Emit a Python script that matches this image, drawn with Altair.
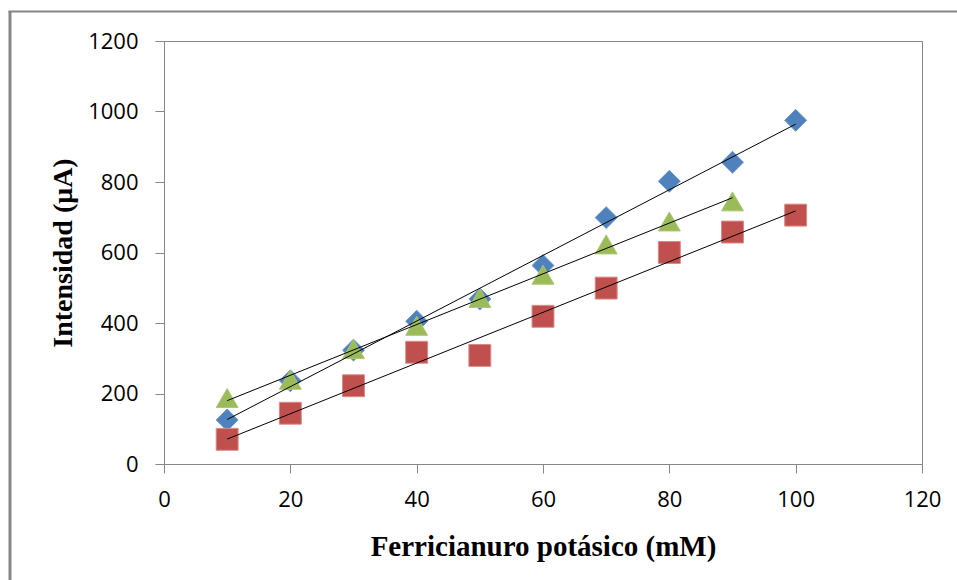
import altair as alt
import pandas as pd

# Data
conc = [10, 20, 30, 40, 50, 60, 70, 80, 90, 100]
serie_a = [125, 236, 323, 405, 468, 563, 699, 802, 856, 975]      # blue diamonds
serie_b = [70, 144, 222, 317, 308, 419, 499, 600, 658, 706]       # red squares
conc_c = [10, 20, 30, 40, 50, 60, 70, 80, 90]
serie_c = [187, 239, 326, 392, 471, 537, 623, 688, 745]           # green triangles

series_names = ["A", "B", "C"]
colors = ["#4F81BD", "#C0504D", "#9BBB59"]
strokes = ["#6A95CB", "#D98A88", "#A9C773"]
shapes = ["diamond", "square", "triangle-up"]

x_ticks = [0, 20, 40, 60, 80, 100, 120]
y_ticks = [0, 200, 400, 600, 800, 1000, 1200]

rows = []
for name, xs, ys in [("A", conc, serie_a), ("B", conc, serie_b), ("C", conc_c, serie_c)]:
    for xv, yv in zip(xs, ys):
        rows.append({"conc": xv, "val": yv, "serie": name})
df = pd.DataFrame(rows)

GRAY = "#868686"

x_enc = alt.X("conc:Q",
              scale=alt.Scale(domain=[0, 120], nice=False, zero=False),
              axis=alt.Axis(values=x_ticks, title="Ferricianuro potásico (mM)", format="d",
                            grid=False, domainColor=GRAY, tickColor=GRAY, tickSize=9,
                            labelFont="Open Sans", labelFontSize=22, labelColor="#000",
                            labelPadding=16, labelFlush=False, labelOverlap=False,
                            titleFont="Liberation Serif", titleFontSize=29,
                            titleFontWeight="bold", titleColor="#000", titlePadding=22))
y_enc = alt.Y("val:Q",
              scale=alt.Scale(domain=[0, 1200], nice=False),
              axis=alt.Axis(values=y_ticks, title="Intensidad (μA)", format="d",
                            grid=False, domainColor=GRAY, tickColor=GRAY, tickSize=9,
                            labelFont="Open Sans", labelFontSize=22, labelColor="#000",
                            labelPadding=17, labelFlush=False, labelOverlap=False,
                            titleFont="Liberation Serif", titleFontSize=28,
                            titleFontWeight="bold", titleColor="#000", titlePadding=10))

points = alt.Chart(df).mark_point(filled=True, size=480, opacity=1, strokeWidth=1).encode(
    x=x_enc,
    y=y_enc,
    color=alt.Color("serie:N", scale=alt.Scale(domain=series_names, range=colors), legend=None),
    stroke=alt.Stroke("serie:N", scale=alt.Scale(domain=series_names, range=strokes), legend=None),
    shape=alt.Shape("serie:N", scale=alt.Scale(domain=series_names, range=shapes), legend=None),
)

trend = alt.Chart(df).transform_regression(
    "conc", "val", groupby=["serie"]
).mark_line(color="#000", strokeWidth=1).encode(
    x="conc:Q", y="val:Q", detail="serie:N"
)

frame_data = alt.Data(values=[{}])
left_line = alt.Chart(frame_data).mark_rule(color=GRAY, strokeWidth=3).encode(
    x=alt.value(-154), y=alt.value(-30), y2=alt.value(600))
top_line = alt.Chart(frame_data).mark_rule(color=GRAY, strokeWidth=2).encode(
    x=alt.value(-155.5), x2=alt.value(900), y=alt.value(-29.5))

chart = alt.layer(points, trend, left_line, top_line).properties(
    width=758, height=423,
    autosize=alt.AutoSizeParams(type="none"),
    padding={"left": 164, "top": 41, "right": 35, "bottom": 116},
    background="white",
).configure_view(stroke=GRAY, strokeWidth=1)

chart.save("out.html", embed_options={"renderer": "svg", "actions": False})
